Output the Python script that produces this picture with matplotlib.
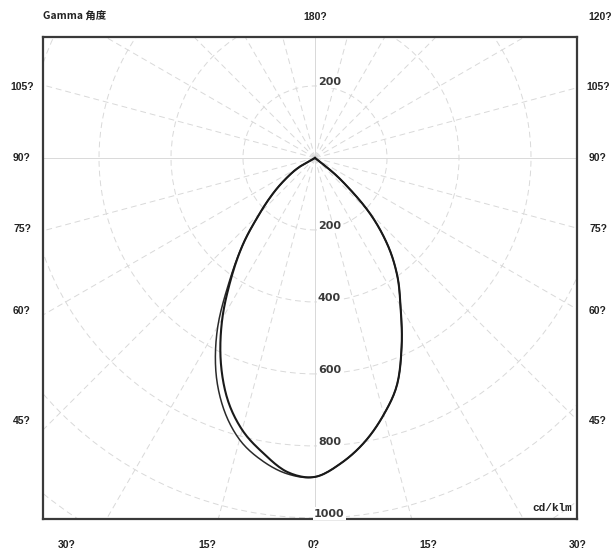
import numpy as np
import matplotlib
matplotlib.use("Agg")
import matplotlib.pyplot as plt
from matplotlib.patches import Circle

# ---- data (cd/klm) ----
gamma = [0, 5, 10, 15, 20, 25, 30, 35, 40, 45, 50, 55, 60, 65, 70, 75, 80, 85, 90]
# right half (C0 / C90, overlapping)
right_side = [883, 850, 800, 738, 668, 570, 475, 398, 312, 210, 90, 0, 0, 0, 0, 0, 0, 0, 0]
# left half, plane C0-C180 (inner curve)
left_inner = [886, 876, 832, 782, 712, 620, 515, 405, 309, 216, 150, 95, 50, 0, 0, 0, 0, 0, 0]
# left half, plane C90-C270 (outer curve)
left_outer = [886, 881, 853, 810, 742, 652, 540, 412, 309, 216, 150, 95, 50, 0, 0, 0, 0, 0, 0]

ring_values = [200, 400, 600, 800, 1000]
ring_label_up = ["200"]
ray_angles = list(range(0, 181, 15))
side_labels = ["105?", "90?", "75?", "60?", "45?"]
bottom_labels = ["30?", "15?", "0?", "15?", "30?"]
top_labels = ["Gamma 角度", "180?", "120?"]
unit_label = "cd/klm"

# ---- figure ----
fig = plt.figure(figsize=(6.16, 5.5), dpi=100)
ax = fig.add_axes([43/616, 31/550, 534/616, 482/550])
xmin, xmax = -755.6, 727.8
ymin, ymax = -1003, 336
ax.set_xlim(xmin, xmax)
ax.set_ylim(ymin, ymax)
ax.set_xticks([])
ax.set_yticks([])
for s in ax.spines.values():
    s.set_color("#3a3a3a")
    s.set_linewidth(1.6)

grid_c = "#d9d9d9"
# rings
for r in ring_values + [1200]:
    ax.add_patch(Circle((0, 0), r, fill=False, ls=(0, (6, 4)), lw=0.7, ec=grid_c, zorder=1))
# rays
for a in ray_angles:
    t = np.radians(a)
    for sgn in (1, -1):
        ls = "-" if a in (0, 90, 180) else (0, (6, 4))
        ax.plot([0, sgn * 2500 * np.sin(t)], [0, -2500 * np.cos(t)], ls=ls, lw=0.7,
                color=grid_c, zorder=1)

# curves
g = np.radians(gamma)

def closed(left, right):
    left = np.array(left, float)
    right = np.array(right, float)
    xl = -left * np.sin(g)
    yl = -left * np.cos(g)
    xr = right * np.sin(g)
    yr = -right * np.cos(g)
    x = np.concatenate([xl[::-1], xr[1:]])
    y = np.concatenate([yl[::-1], yr[1:]])
    # drop repeated points (zero intensities all map to the origin)
    keep = np.ones(len(x), bool)
    keep[1:] = (np.diff(x) != 0) | (np.diff(y) != 0)
    return x[keep], y[keep]

def smooth(x, y, n=12):
    # Catmull-Rom rendering of the polyline through the data points
    P = np.column_stack([x, y])
    out = []
    N = len(P)
    for i in range(N - 1):
        p0 = P[max(i - 1, 0)]
        p1 = P[i]
        p2 = P[i + 1]
        p3 = P[min(i + 2, N - 1)]
        t = np.linspace(0, 1, n, endpoint=False)[:, None]
        seg = 0.5 * ((2 * p1) + (-p0 + p2) * t + (2 * p0 - 5 * p1 + 4 * p2 - p3) * t ** 2
                     + (-p0 + 3 * p1 - 3 * p2 + p3) * t ** 3)
        out.append(seg)
    out.append(P[-1:])
    Q = np.vstack(out)
    return Q[:, 0], Q[:, 1]

x1, y1 = smooth(*closed(left_outer, right_side))
x2, y2 = smooth(*closed(left_inner, right_side))
ax.plot(x1, y1, color="#2a2a2a", lw=1.1, zorder=3)
ax.plot(x2, y2, color="#1a1a1a", lw=1.5, zorder=3)

# ring labels
lab_kw = dict(fontsize=8, fontweight="bold", color="#3a3a3a", ha="center", va="center",
              family="DejaVu Sans",
              bbox=dict(boxstyle="square,pad=0.1", fc="white", ec="none"), zorder=4)
for r in ring_values:
    ax.text(40, -r + 12, str(r), **lab_kw)
ax.text(40, 200 + 12, ring_label_up[0], **lab_kw)

ax.text(715, -985, unit_label, fontsize=8, fontweight="bold", family="Liberation Mono",
        color="#222", ha="right", va="bottom", zorder=4)

# outside labels (figure pixel coords -> fraction)
def ft(xp, yp, s, ha="center", **kw):
    fig.text(xp / 616, 1 - yp / 550, s, ha=ha, va="center", fontsize=7.5,
             fontweight="bold", color="#222", **kw)

lab_y = [87, 158, 229, 311, 421]
for s, yp in zip(side_labels, lab_y):
    ft(22, yp, s, family="Liberation Sans")
    ft(598, yp, s, family="Liberation Sans")
for s, xp in zip(bottom_labels, [67, 207, 314, 428, 578]):
    ft(xp, 545, s, family="Liberation Sans")
ft(43, 17, top_labels[0], ha="left", family=["Noto Sans CJK SC", "DejaVu Sans"])
ft(315, 17, top_labels[1], family="Liberation Sans")
ft(600, 17, top_labels[2], family="Liberation Sans")

fig.savefig("out.png", dpi=100, facecolor="white")
